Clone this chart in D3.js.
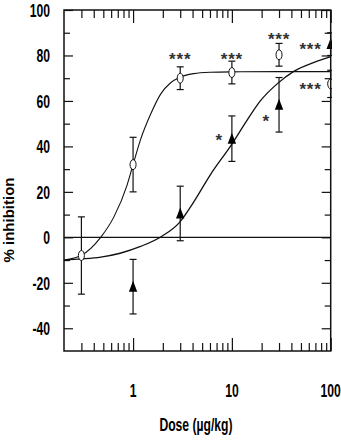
<!DOCTYPE html>
<html><head><meta charset="utf-8">
<script src="https://cdn.jsdelivr.net/npm/d3@7"></script>
<style>body{margin:0;background:#fff}svg{display:block}</style>
</head><body><svg id="c" width="341" height="440"></svg>
<script>
// ---- data ----
const circleDose = [0.3, 1, 3, 10, 30, 100];
const circleMean = [-8, 32, 70, 72.5, 80.3, 67.5];
const circleErr  = [17, 12, 5, 5, 5, 6];
const triDose = [1, 3, 10, 30, 100];
const triMean = [-21.7, 10.5, 43.4, 58.3, 85];
const triErr  = [12, 12, 10, 12, 5];
const fitCircleDose  = [0.2, 0.3, 0.47, 0.64, 0.87, 1, 1.19, 1.5, 1.9, 2.4, 2.94, 4.1, 6, 10, 30, 100];
const fitCircleValue = [-10, -7.9, 0, 9, 23, 32, 43, 54, 63, 68, 70.3, 72, 72.6, 72.8, 72.9, 72.9];
const fitTriDose  = [0.2, 0.3, 0.47, 0.74, 1.19, 1.96, 2.94, 4.1, 6.05, 10, 14, 19.4, 28.7, 42.3, 68, 100];
const fitTriValue = [-10, -9.5, -8.7, -7, -4, 0.5, 6.5, 15.5, 27.5, 41, 51, 60, 67.5, 73, 77, 79.5];
const starText  = ["***", "***", "***", "***", "***", "*", "*"];
const starDose  = [3, 10, 30, 100, 100, 10, 30];
const starValue = [80, 80, 89, 84.5, 67, 44.5, 53];
const starSide  = ["c", "c", "c", "l", "l", "l", "l"];
const xMajorTicks = [1, 10, 100];
const xMinorTicks = [0.3,0.4,0.5,0.6,0.7,0.8,0.9,2,3,4,5,6,7,8,9,20,30,40,50,60,70,80,90];
const yMajorTicks = [-40, -20, 0, 20, 40, 60, 80, 100];
const yMinorTicks = [-30, -10, 10, 30, 50, 70, 90];
const xTitle = "Dose (µg/kg)";
const yTitle = "% inhibition";

// ---- layout ----
const L = 64, R = 330.7, T = 10, B = 351;
const svg = d3.select("#c");
const x = d3.scaleLog().domain([0.2, 100]).range([L, R]);
const y = d3.scaleLinear().domain([-50, 100]).range([B, T]);
const ink = "#111";
const font = "'Liberation Sans', Arial, sans-serif";

svg.append("defs").append("clipPath").attr("id", "clip")
  .append("rect").attr("x", L - 2).attr("y", 0).attr("width", 332 - (L - 2)).attr("height", 440);

const plot = svg.append("g").attr("clip-path", "url(#clip)");

// zero line
plot.append("line").attr("x1", L).attr("x2", R).attr("y1", y(0)).attr("y2", y(0))
  .attr("stroke", ink).attr("stroke-width", 1.4);

// fitted curves
const line = d3.line().x(d => x(d[0])).y(d => y(d[1])).curve(d3.curveMonotoneX);
plot.append("path").datum(d3.zip(fitCircleDose, fitCircleValue)).attr("d", line)
  .attr("fill", "none").attr("stroke", ink).attr("stroke-width", 1.1);
plot.append("path").datum(d3.zip(fitTriDose, fitTriValue)).attr("d", line)
  .attr("fill", "none").attr("stroke", ink).attr("stroke-width", 1.3);

// error bars
function errorBars(doses, means, errs) {
  const g = plot.append("g").attr("stroke", ink).attr("stroke-width", 1.2);
  doses.forEach((d, i) => {
    const cx = x(d), y1 = y(means[i] + errs[i]), y2 = y(means[i] - errs[i]);
    g.append("line").attr("x1", cx).attr("x2", cx).attr("y1", y1).attr("y2", y2);
    g.append("line").attr("x1", cx - 3.5).attr("x2", cx + 3.5).attr("y1", y1).attr("y2", y1);
    g.append("line").attr("x1", cx - 3.5).attr("x2", cx + 3.5).attr("y1", y2).attr("y2", y2);
  });
}
errorBars(circleDose, circleMean, circleErr);
errorBars(triDose, triMean, triErr);

// markers
plot.selectAll(".circ").data(d3.zip(circleDose, circleMean)).join("ellipse")
  .attr("cx", d => x(d[0])).attr("cy", d => y(d[1])).attr("rx", 3).attr("ry", 5)
  .attr("fill", "#fff").attr("stroke", ink).attr("stroke-width", 1);
plot.selectAll(".tri").data(d3.zip(triDose, triMean)).join("path")
  .attr("d", d => { const cx = x(d[0]), cy = y(d[1]);
    return `M${cx},${cy - 6}L${cx + 4.2},${cy + 5}L${cx - 4.2},${cy + 5}Z`; })
  .attr("fill", "#000");

// significance stars
svg.selectAll(".star").data(starText).join("text")
  .attr("x", (t, i) => starSide[i] === "c" ? x(starDose[i]) : x(starDose[i]) - 9)
  .attr("y", (t, i) => y(starValue[i]) + 10)
  .attr("text-anchor", (t, i) => starSide[i] === "c" ? "middle" : "end")
  .attr("font-family", font).attr("font-size", 17).attr("font-weight", "bold")
  .attr("letter-spacing", 0.8).attr("fill", "#333").text(t => t);

// frame
svg.append("rect").attr("x", L).attr("y", T).attr("width", R - L).attr("height", B - T)
  .attr("fill", "none").attr("stroke", ink).attr("stroke-width", 1.5);

// ticks via axes (inward)
function ticks(axisFn, vals, size, transform) {
  const g = svg.append("g").attr("transform", transform)
    .call(axisFn.tickValues(vals).tickSize(-size).tickFormat(""));
  g.select(".domain").remove();
  g.selectAll("line").attr("stroke", ink).attr("stroke-width", 1.2);
}
ticks(d3.axisBottom(x), xMajorTicks, 13, `translate(0,${B})`);
ticks(d3.axisBottom(x), xMinorTicks, 8, `translate(0,${B})`);
ticks(d3.axisTop(x), xMajorTicks, 13, `translate(0,${T})`);
ticks(d3.axisTop(x), xMinorTicks, 8, `translate(0,${T})`);
ticks(d3.axisLeft(y), yMajorTicks, 9, `translate(${L},0)`);
ticks(d3.axisLeft(y), yMinorTicks, 6, `translate(${L},0)`);
ticks(d3.axisRight(y), yMajorTicks, 9, `translate(${R},0)`);
ticks(d3.axisRight(y), yMinorTicks, 6, `translate(${R},0)`);

// tick labels (bold, condensed)
svg.selectAll(".yl").data(yMajorTicks).join("text")
  .attr("transform", d => `translate(50,${y(d) + 6.8}) scale(0.64,1)`)
  .attr("text-anchor", "end").attr("font-family", font).attr("font-weight", "bold")
  .attr("font-size", 19).attr("fill", "#000").text(d => d);
svg.selectAll(".xl").data(xMajorTicks).join("text")
  .attr("transform", d => `translate(${x(d)},397) scale(0.64,1)`)
  .attr("text-anchor", "middle").attr("font-family", font).attr("font-weight", "bold")
  .attr("font-size", 19).attr("fill", "#000").text(d => d);

// axis titles
svg.append("text").attr("transform", `translate(196,430.5) scale(0.64,1)`)
  .attr("text-anchor", "middle").attr("font-family", font).attr("font-weight", "bold")
  .attr("font-size", 19).attr("fill", "#000").text(xTitle);
svg.append("text").attr("transform", "translate(9,220) rotate(-90)")
  .attr("dy", "0.36em").attr("text-anchor", "middle").attr("font-family", font)
  .attr("font-weight", "bold").attr("font-size", 15).attr("fill", "#000").text(yTitle);
</script>
</body></html>
